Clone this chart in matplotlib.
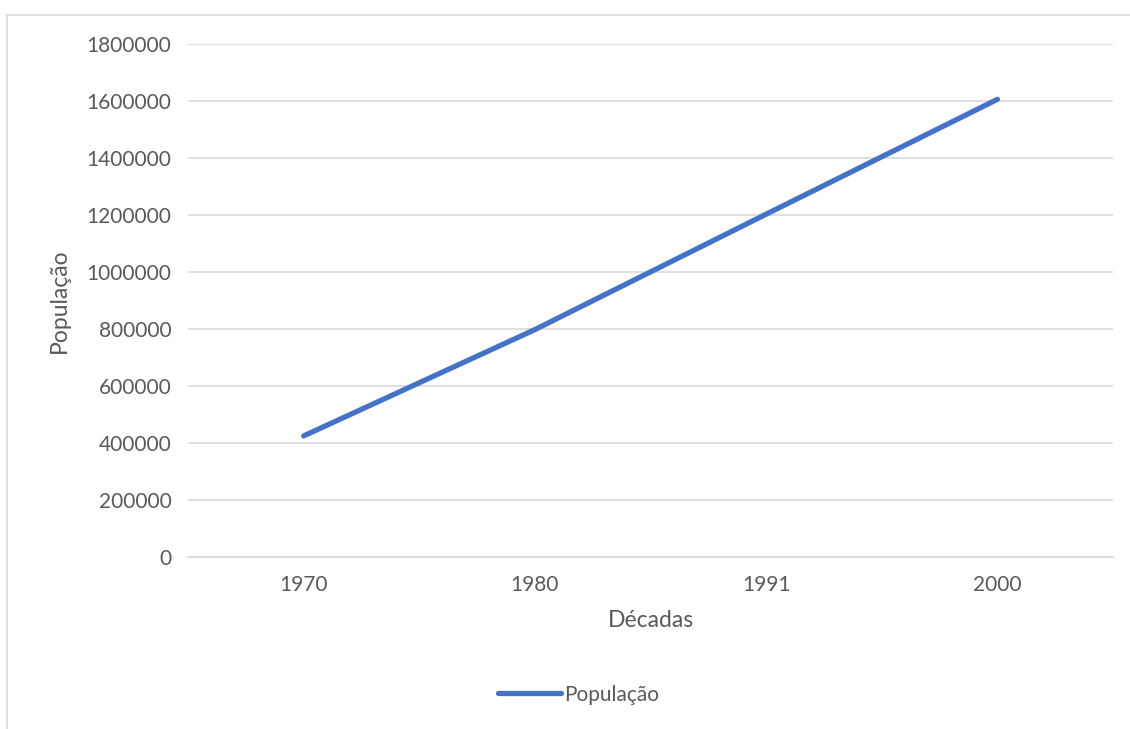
import matplotlib
matplotlib.use("Agg")
from matplotlib import pyplot as plt
from matplotlib.lines import Line2D

decadas = ['1970', '1980', '1991', '2000']
populacao = [425000, 798000, 1203000, 1606000]
y_ticks = [0, 200000, 400000, 600000, 800000, 1000000, 1200000, 1400000, 1600000, 1800000]

text_color = '#595959'
grid_color = '#d9d9d9'
line_color = '#4472c4'

plt.rcParams['font.family'] = ['Lato', 'DejaVu Sans']

fig = plt.figure(figsize=(11.3, 7.29), dpi=100)
ax = fig.add_axes([0.1664, 0.2359, 0.985 - 0.1664, 0.9396 - 0.2359])

x = list(range(len(decadas)))
ax.plot(x, populacao, color=line_color, linewidth=3.8, solid_capstyle='round', label='População')

ax.set_xlim(-0.5, len(decadas) - 0.5)
ax.set_ylim(0, 1800000)
ax.set_yticks(y_ticks)
ax.set_yticklabels([str(v) for v in y_ticks])
ax.set_xticks(x)
ax.set_xticklabels(decadas)
ax.tick_params(length=0, labelsize=15, labelcolor=text_color, pad=12)
ax.tick_params(axis='x', pad=13)
ax.grid(axis='y', color=grid_color, linewidth=1.2)
ax.set_axisbelow(True)
for side in ['top', 'right', 'left']:
    ax.spines[side].set_visible(False)
ax.spines['bottom'].set_color(grid_color)
ax.spines['bottom'].set_linewidth(1.2)

ax.set_xlabel('Décadas', fontsize=16.5, color=text_color, labelpad=11)
ax.set_ylabel('População', fontsize=16.5, color=text_color, labelpad=12)

handle = Line2D([0], [0], color=line_color, linewidth=3.8, solid_capstyle='round')
fig.legend([handle], ['População'], loc='center', bbox_to_anchor=(0.512, 0.047),
           frameon=False, fontsize=15, labelcolor=text_color, handlelength=3.0, handletextpad=0.15)

# outer chart border (only left and top visible)
fig.add_artist(Line2D([7 / 1130, 7 / 1130], [0, 1 - 15 / 729], color=grid_color, linewidth=1.2, transform=fig.transFigure))
fig.add_artist(Line2D([7 / 1130, 1], [1 - 15 / 729, 1 - 15 / 729], color=grid_color, linewidth=1.2, transform=fig.transFigure))

fig.savefig('out.png', dpi=100)
